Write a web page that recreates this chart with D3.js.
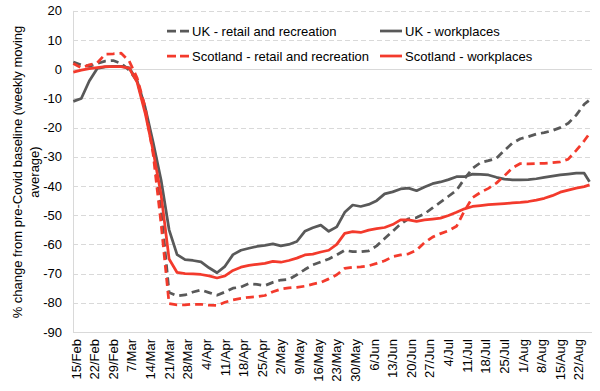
<!DOCTYPE html>
<html>
<head>
<meta charset="utf-8">
<script src="https://d3js.org/d3.v7.min.js"></script>
<style>
	body { margin: 0; background: #fff; }
	svg { display: block; font-family: "Liberation Sans", Arial, sans-serif; }
</style>
</head>
<body>
<div id="chart"></div>
<script>
// dates: every 3 days from 14 Feb 2020, plus last day 26 Aug
var startDate = new Date(2020, 1, 14);
var dates = d3.timeDay.range(startDate, new Date(2020, 7, 25), 3);
dates.push(new Date(2020, 7, 26));

var tickLabels = ["15/Feb","22/Feb","29/Feb","7/Mar","14/Mar","21/Mar","28/Mar","4/Apr","11/Apr",
	"18/Apr","25/Apr","2/May","9/May","16/May","23/May","30/May","6/Jun","13/Jun","20/Jun",
	"27/Jun","4/Jul","11/Jul","18/Jul","25/Jul","1/Aug","8/Aug","15/Aug","22/Aug"];

var yTicks = [20, 10, 0, -10, -20, -30, -40, -50, -60, -70, -80, -90];

var ukRetail = [2.5, 1.5, 1, 2, 2.8, 3, 2, -0.3, -4, -14, -27, -48, -76.5, -77.6, -77.3, -76.3,
	-75.6, -76.5, -77.4, -76.3, -75, -74.6, -73.4, -73.7, -74.1, -73, -72.2, -72, -70.4, -68.6,
	-67, -66, -65, -63.6, -62, -62.5, -62.5, -62.2, -60.5, -58, -55.5, -53, -51.2, -50.8, -49.5,
	-47.5, -45.5, -43.5, -41.5, -37.5, -34, -32, -31.3, -30.5, -27.8, -25.3, -23.8, -23.1, -22.2,
	-21.7, -21, -20, -18.5, -15.7, -12, -10.5];

var ukWork = [-11, -10, -4, 0.3, 0.8, 1, 1, 0.5, -4, -13, -25, -38, -55, -63.5, -65.2, -65.5,
	-66, -68, -69.7, -67.5, -63.5, -62, -61.3, -60.7, -60.3, -59.8, -60.5, -60, -59, -55.5,
	-54.3, -53.4, -55.5, -54, -49, -46.5, -47, -46.3, -45, -42.7, -42, -41, -40.7, -41.6, -40.3,
	-39.2, -38.6, -37.8, -36.8, -36.8, -35.9, -36, -36.2, -37, -37.6, -37.9, -37.9, -37.8, -37.5,
	-37, -36.6, -36.2, -35.9, -35.6, -35.6, -38.5];

var scotRetail = [2, 0.5, 1.5, 2.2, 5.2, 5.3, 5.5, 2.8, -3, -13, -29, -53, -80.3, -80.7, -80.7, -80.5,
	-80.5, -80.8, -80.9, -79.8, -79, -78.5, -78.1, -77.9, -77.5, -76.2, -75.3, -74.9, -74.7, -74.3,
	-73.6, -73, -71.8, -70.4, -68.2, -67.8, -67.7, -67.3, -66.5, -65.6, -64.2, -63.6, -63.2, -62,
	-59.4, -57.5, -56.3, -55.3, -53.8, -48.5, -44, -42.2, -40.8, -39, -36.5, -33.8, -32.3, -32.4,
	-32.3, -32.2, -32, -31.7, -30.8, -27.8, -24.5, -22];

var scotWork = [-1, -0.3, 0.2, 0.6, 0.9, 0.9, 0.9, 0.4, -4.5, -15, -28, -43, -65, -69.6, -70, -70.1,
	-70.3, -70.8, -71.5, -70.8, -68.9, -67.8, -67.2, -66.8, -66.5, -65.8, -66.1, -65.5, -64.7, -63.6,
	-63.3, -62.6, -62, -60, -56.2, -55.6, -55.9, -55.1, -54.6, -54.2, -53.2, -51.6, -51.6, -52.1,
	-51.6, -51.3, -51, -50.1, -49, -47.8, -47, -46.7, -46.4, -46.2, -46, -45.8, -45.6, -45.3, -44.8,
	-44.2, -43.3, -42.1, -41.4, -40.7, -40.2, -39.6];

var series = [
	{ name: "UK - retail and recreation", values: ukRetail, colour: "#595959", dash: "8,5" },
	{ name: "UK - workplaces", values: ukWork, colour: "#595959", dash: null },
	{ name: "Scotland - retail and recreation", values: scotRetail, colour: "#f33a2c", dash: "8,5" },
	{ name: "Scotland - workplaces", values: scotWork, colour: "#f33a2c", dash: null }
];

var width = 600, height = 391;
var grid = "#d9d9d9";

var svg = d3.select("#chart").append("svg")
	.attr("width", width)
	.attr("height", height);

var x = d3.scaleTime()
	.domain([new Date(2020, 1, 14), new Date(2020, 7, 27)])
	.range([73.3, 592.2]);

var y = d3.scaleLinear()
	.domain([-90, 20])
	.range([332, 10.9]);

// gridlines
svg.append("g").selectAll("line")
	.data(yTicks)
	.enter()
  .append("line")
	.attr("x1", 73)
	.attr("x2", 592)
	.attr("y1", function (d) { return Math.round(y(d)) + 0.5; })
	.attr("y2", function (d) { return Math.round(y(d)) + 0.5; })
	.attr("stroke", grid)
	.attr("stroke-width", 1)
	.attr("stroke-dasharray", function (d) { return (d === 0 || d === -90) ? null : "5,3"; });

// left axis line
svg.append("line")
	.attr("x1", 73.5).attr("x2", 73.5)
	.attr("y1", y(20)).attr("y2", Math.round(y(-90)) + 0.5)
	.attr("stroke", grid)
	.attr("stroke-width", 1);

// y tick labels
svg.append("g").selectAll("text")
	.data(yTicks)
	.enter()
  .append("text")
	.attr("x", 62)
	.attr("y", function (d) { return y(d); })
	.attr("dy", "0.35em")
	.attr("text-anchor", "end")
	.attr("font-size", 13)
	.attr("fill", "#000")
	.text(function (d) { return d; });

// x tick labels (rotated)
var parseTick = d3.timeParse("%d/%b/%Y");
svg.append("g").selectAll("text")
	.data(tickLabels)
	.enter()
  .append("text")
	.attr("transform", function (d) {
		return "translate(" + x(parseTick(d + "/2020")) + ",339) rotate(-90)";
	})
	.attr("dy", "0.35em")
	.attr("text-anchor", "end")
	.attr("font-size", 13)
	.attr("fill", "#000")
	.text(function (d) { return d; });

// y axis title
var title = svg.append("text")
	.attr("transform", "translate(0,172) rotate(-90)")
	.attr("text-anchor", "middle")
	.attr("font-size", 13)
	.attr("fill", "#000");
title.append("tspan").attr("x", 0).attr("y", 22).text("% change from pre-Covid baseline (weekly moving");
title.append("tspan").attr("x", 0).attr("y", 39).text("average)");

// lines
var line = d3.line()
	.x(function (d, i) { return x(dates[i]); })
	.y(function (d) { return y(d); });

svg.append("g").selectAll("path")
	.data(series)
	.enter()
  .append("path")
	.attr("d", function (d) { return line(d.values); })
	.attr("fill", "none")
	.attr("stroke", function (d) { return d.colour; })
	.attr("stroke-width", 2.75)
	.attr("stroke-linejoin", "round")
	.attr("stroke-dasharray", function (d) { return d.dash; });

// legend
var legend = svg.append("g").selectAll("g")
	.data(series)
	.enter()
  .append("g")
	.attr("transform", function (d, i) {
		return "translate(" + (i % 2 === 0 ? 167 : 380) + "," + (i < 2 ? 31 : 56) + ")";
	});

legend.append("line")
	.attr("x1", 0)
	.attr("x2", 22)
	.attr("stroke", function (d) { return d.colour; })
	.attr("stroke-width", 2.75)
	.attr("stroke-dasharray", function (d) { return d.dash ? "9,4" : null; });

legend.append("text")
	.attr("x", 25)
	.attr("dy", "0.35em")
	.attr("font-size", 13)
	.attr("fill", "#000")
	.text(function (d) { return d.name; });
</script>
</body>
</html>
